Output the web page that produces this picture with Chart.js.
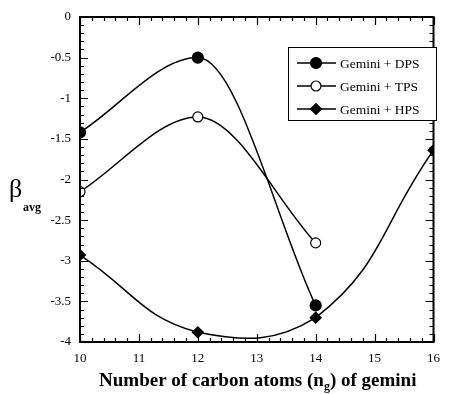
<!DOCTYPE html>
<html>
<head>
<meta charset="utf-8">
<script src="https://cdn.jsdelivr.net/npm/chart.js@4.4.1/dist/chart.umd.min.js"></script>
<style>
  html, body { margin: 0; background: #fff; }
  #wrap { width: 449px; height: 394px; }
</style>
</head>
<body>
<div id="wrap"><canvas id="betaChart"></canvas></div>
<script>
// chain length of the gemini surfactant vs. average interaction parameter
const dpsX = [10, 12, 14];
const dpsBeta = [-1.42, -0.5, -3.55];
const tpsX = [10, 12, 14];
const tpsBeta = [-2.15, -1.23, -2.78];
const hpsX = [10, 12, 14, 16];
const hpsBeta = [-2.93, -3.88, -3.70, -1.64];
const seriesLabels = ["Gemini + DPS", "Gemini + TPS", "Gemini + HPS"];
const xTicks = [10, 11, 12, 13, 14, 15, 16];
const yTicks = [0, -0.5, -1, -1.5, -2, -2.5, -3, -3.5, -4];

const SERIF = '"Liberation Serif", "Times New Roman", serif';

const toPoints = (xs, ys) => xs.map((x, i) => ({ x: x, y: ys[i] }));

// frame, inward ticks, legend and axis titles
const framePlugin = {
  id: "frame",
  afterDraw(chart) {
    const { ctx, chartArea: a, scales } = chart;
    const xs = scales.x, ys = scales.y;
    ctx.save();
    ctx.strokeStyle = "#000";
    ctx.lineWidth = 2;
    ctx.strokeRect(a.left, a.top, a.right - a.left, a.bottom - a.top);

    ctx.lineWidth = 1.2;
    ctx.beginPath();
    for (let i = 0; i <= 30; i++) {
      const v = 10 + i * 0.2;
      const px = Math.round(xs.getPixelForValue(v)) + 0.5;
      const len = i % 5 === 0 ? 8 : 4;
      ctx.moveTo(px, a.bottom); ctx.lineTo(px, a.bottom - len);
      ctx.moveTo(px, a.top); ctx.lineTo(px, a.top + len);
    }
    for (let i = 0; i <= 40; i++) {
      const v = -i * 0.1;
      const py = Math.round(ys.getPixelForValue(v)) + 0.5;
      const len = i % 5 === 0 ? 8 : 4;
      ctx.moveTo(a.left, py); ctx.lineTo(a.left + len, py);
      ctx.moveTo(a.right, py); ctx.lineTo(a.right - len, py);
    }
    ctx.stroke();

    // legend
    const bx = 288, by = 47, bw = 148, bh = 73;
    ctx.lineWidth = 1;
    ctx.fillStyle = "#fff";
    ctx.fillRect(bx, by, bw, bh);
    ctx.strokeRect(bx + 0.5, by + 0.5, bw, bh);
    ctx.font = "13.5px " + SERIF;
    ctx.textBaseline = "middle";
    chart.data.datasets.forEach((ds, i) => {
      const ry = by + 16 + i * 23;
      ctx.strokeStyle = "#000";
      ctx.lineWidth = 1.5;
      ctx.beginPath();
      ctx.moveTo(bx + 9, ry); ctx.lineTo(bx + 48, ry);
      ctx.stroke();
      ctx.fillStyle = ds.pointBackgroundColor;
      ctx.lineWidth = ds.pointBorderWidth;
      Chart.helpers.drawPoint(ctx, {
        pointStyle: ds.pointStyle,
        radius: ds.pointRadius,
        borderWidth: ds.pointBorderWidth
      }, bx + 28, ry);
      ctx.fillStyle = "#000";
      ctx.fillText(ds.label, bx + 52, ry + 1);
    });

    // x title with subscript
    ctx.fillStyle = "#000";
    ctx.textBaseline = "alphabetic";
    const big = "bold 19px " + SERIF, small = "bold 12px " + SERIF;
    const parts = [["Number of carbon atoms (n", big, 0], ["g", small, 4], [") of gemini", big, 0]];
    let total = 0;
    parts.forEach(p => { ctx.font = p[1]; total += ctx.measureText(p[0]).width; });
    let tx = (a.left + a.right) / 2 - total / 2 + 1;
    parts.forEach(p => {
      ctx.font = p[1];
      ctx.fillText(p[0], tx, 386 + p[2]);
      tx += ctx.measureText(p[0]).width;
    });

    // y title
    ctx.font = "26px " + SERIF;
    ctx.fillText("\u03B2", 9, 197);
    ctx.font = "bold 12px " + SERIF;
    ctx.fillText("avg", 23, 211);
    ctx.restore();
  }
};

const markerStyle = (style, radius, fill) => ({
  pointStyle: style,
  pointRadius: radius,
  pointHoverRadius: radius,
  pointBackgroundColor: fill,
  pointBorderColor: "#000",
  pointBorderWidth: 1.2
});

const lineStyle = {
  borderColor: "#000",
  borderWidth: 1.5,
  fill: false
};

new Chart(document.getElementById("betaChart"), {
  type: "line",
  data: {
    datasets: [
      Object.assign({ label: seriesLabels[0], data: toPoints(dpsX, dpsBeta), cubicInterpolationMode: "monotone" },
        markerStyle("circle", 5.5, "#000"), lineStyle),
      Object.assign({ label: seriesLabels[1], data: toPoints(tpsX, tpsBeta), cubicInterpolationMode: "monotone" },
        markerStyle("circle", 5, "#fff"), lineStyle),
      Object.assign({ label: seriesLabels[2], data: toPoints(hpsX, hpsBeta), tension: 0.45 },
        markerStyle("rectRot", 5.5, "#000"), lineStyle)
    ]
  },
  options: {
    responsive: true,
    maintainAspectRatio: false,
    animation: false,
    layout: { padding: { top: 17, right: 8, left: 0, bottom: 0 } },
    plugins: { legend: { display: false }, tooltip: { enabled: false } },
    scales: {
      x: {
        type: "linear",
        min: 10, max: 16,
        grid: { display: false, drawTicks: false },
        border: { display: false },
        afterBuildTicks: s => { s.ticks = xTicks.map(v => ({ value: v })); },
        afterFit: s => { s.height = 52; },
        ticks: { color: "#000", padding: 9, font: { family: SERIF, size: 13 }, callback: v => String(v) }
      },
      y: {
        min: -4, max: 0,
        grid: { display: false, drawTicks: false },
        border: { display: false },
        afterBuildTicks: s => { s.ticks = yTicks.map(v => ({ value: v })); },
        afterFit: s => { s.width = 80; },
        ticks: { color: "#000", padding: 9, font: { family: SERIF, size: 13 }, callback: v => String(v) }
      }
    }
  },
  plugins: [framePlugin]
});
</script>
</body>
</html>
